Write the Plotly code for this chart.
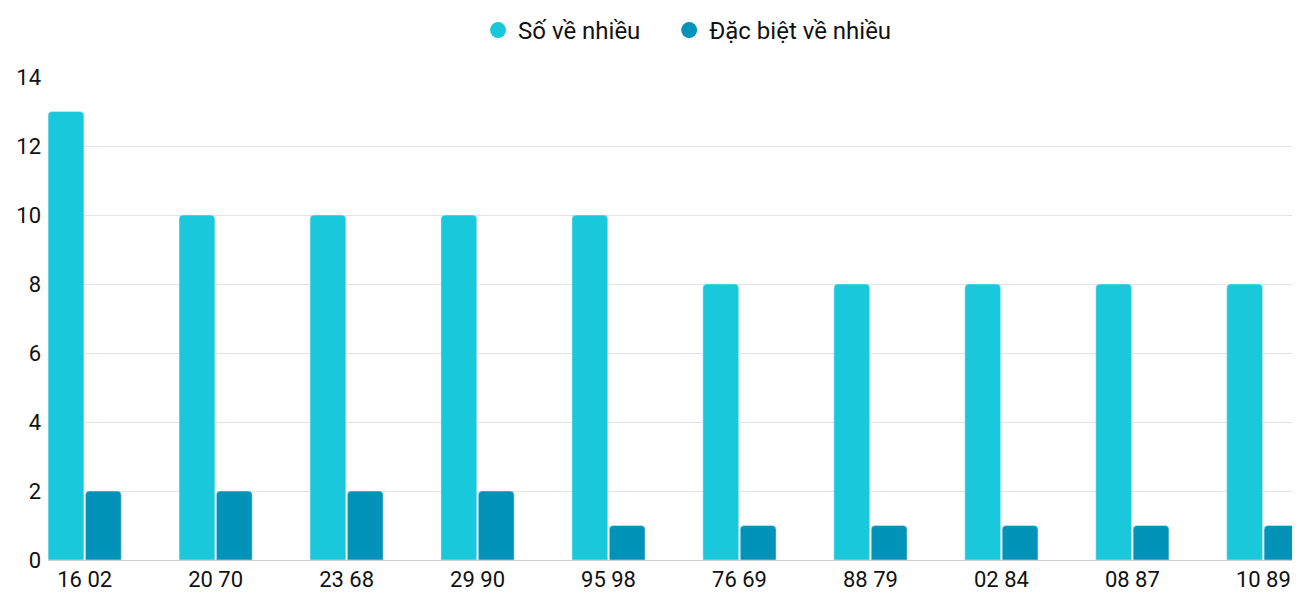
import plotly.graph_objects as go

categories = ["16 02","20 70","23 68","29 90","95 98","76 69","88 79","02 84","08 87","10 89"]
so_ve_nhieu = [13,10,10,10,10,8,8,8,8,8]
dac_biet = [2,2,2,2,1,1,1,1,1,1]
names = ["Số về nhiều", "Đặc biệt về nhiều"]
colors = ["#1ac8db", "#0493b8"]

fig = go.Figure()
for vals, n, c in zip([so_ve_nhieu, dac_biet], names, colors):
    fig.add_bar(x=list(range(len(categories))), y=vals, name=n, marker_color=c,
                showlegend=False, hovertemplate="%{y}")
for n, c in zip(names, colors):
    fig.add_scatter(x=[None], y=[None], mode="markers", name=n + "    ",
                    marker=dict(symbol="circle", size=28, color=c))

fig.update_layout(
    width=1292, height=584, barmode="group", bargap=0.43, bargroupgap=0.04,
    barcornerradius=4,
    margin=dict(l=40, r=0, t=69, b=26),
    paper_bgcolor="white", plot_bgcolor="white",
    font=dict(family="Roboto", size=22, color="#111"),
    legend=dict(orientation="h", x=0.52, xanchor="center", y=1.0, yanchor="top",
                yref="container", font=dict(size=24)),
    xaxis=dict(tickmode="array", tickvals=list(range(len(categories))), ticktext=categories,
               range=[-0.28, len(categories) - 1 + 0.28], showgrid=False,
               showline=True, linecolor="#ccc", ticks=""),
    yaxis=dict(range=[0, 14], dtick=2, gridcolor="#e3e3e3", zeroline=False,
               ticklabelstandoff=6),
)
fig.write_html("out.html")
